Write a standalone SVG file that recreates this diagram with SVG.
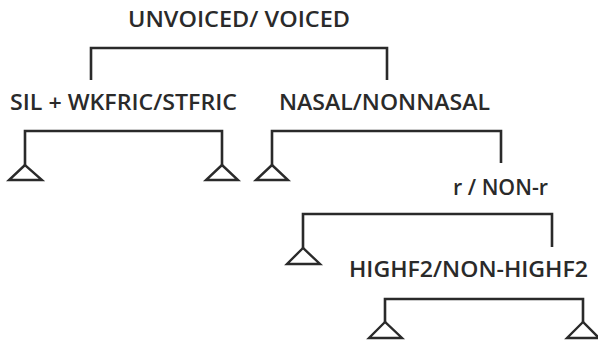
<svg xmlns="http://www.w3.org/2000/svg" width="598" height="353" viewBox="0 0 598 353">
<style>
.lbl{font-family:"Open Sans","Liberation Sans",Arial,sans-serif;font-size:22px;font-weight:600;fill:#2a2a2a}
.ln{fill:none;stroke:#2a2a2a;stroke-width:2.6;stroke-linejoin:miter}
.tri{fill:none;stroke:#2a2a2a;stroke-width:2.4;stroke-linejoin:miter}
</style>
<rect width="598" height="353" fill="#fff"/>
<g id="n-unvoiced"><text class="lbl" x="128" y="27" textLength="222" lengthAdjust="spacingAndGlyphs">UNVOICED/ VOICED</text></g>
<g id="n-sil"><text class="lbl" x="10" y="110" textLength="227" lengthAdjust="spacingAndGlyphs">SIL + WKFRIC/STFRIC</text></g>
<g id="n-nasal"><text class="lbl" x="279" y="110" textLength="211" lengthAdjust="spacingAndGlyphs">NASAL/NONNASAL</text></g>
<g id="n-r"><text class="lbl" x="453" y="195" textLength="95" lengthAdjust="spacingAndGlyphs">r / NON-r</text></g>
<g id="n-highf2"><text class="lbl" x="349" y="277" textLength="239" lengthAdjust="spacingAndGlyphs">HIGHF2/NON-HIGHF2</text></g>
<g id="leaf1"><path class="tri" d="M25 165 L9 180 L42 180 Z"/></g>
<g id="leaf2"><path class="tri" d="M222 165 L206 180 L238 180 Z"/></g>
<g id="leaf3"><path class="tri" d="M272 165 L256 180 L288 180 Z"/></g>
<g id="leaf4"><path class="tri" d="M303 248 L287 264 L320 264 Z"/></g>
<g id="leaf5"><path class="tri" d="M385 322 L369 338 L402 338 Z"/></g>
<g id="leaf6"><path class="tri" d="M583 322 L567 338 L599 338 Z"/></g>
<g id="connectors">
<path class="ln" d="M91 80 V48 H387 V80"/>
<path class="ln" d="M25 165 V131 H222 V165"/>
<path class="ln" d="M272 165 V131 H501 V163"/>
<path class="ln" d="M303 248 V214 H552 V247"/>
<path class="ln" d="M385 322 V299 H583 V322"/>
</g>
</svg>
